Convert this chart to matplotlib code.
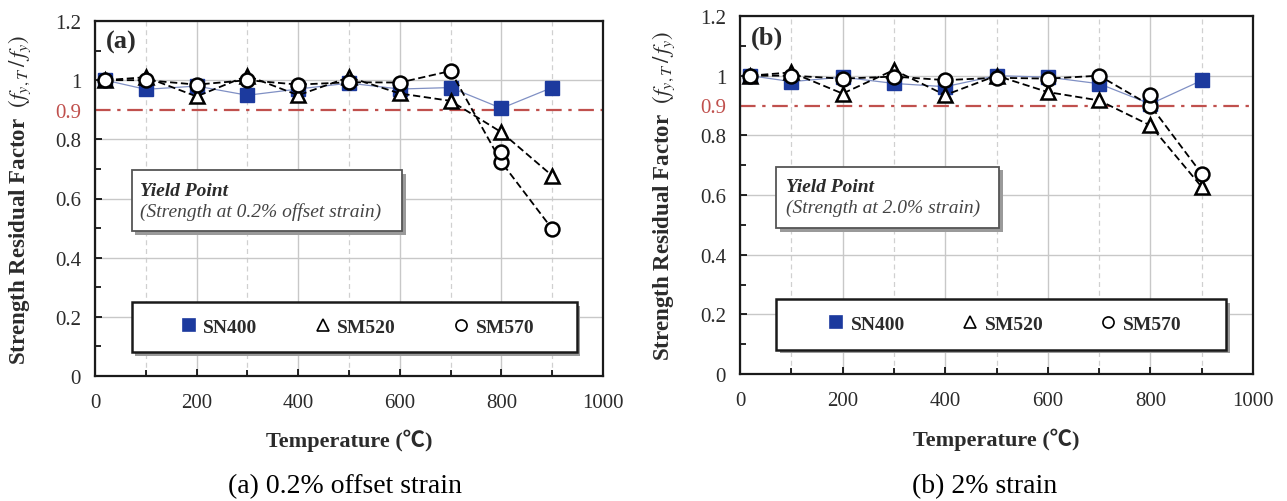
import matplotlib
matplotlib.use("Agg")
import matplotlib.pyplot as plt
import matplotlib.transforms as mtransforms
from matplotlib.patches import Rectangle

plt.rcParams['font.family'] = ['Liberation Serif', 'Noto Sans CJK JP', 'DejaVu Serif']
plt.rcParams['mathtext.fontset'] = 'stix'

# temperatures (deg C)
temps = [20, 100, 200, 300, 400, 500, 600, 700, 800, 900]

# (a) 0.2% offset strain
a_sn400 = [1.00, 0.969, 0.98, 0.949, 0.97, 0.99, 0.97, 0.975, 0.905, 0.975]
a_sm520 = [1.00, 1.01, 0.945, 1.015, 0.949, 1.01, 0.955, 0.93, 0.824, 0.677]
a_sm570 = [1.00, 1.00, 0.985, 1.00, 0.985, 0.993, 0.992, 1.031, 0.723, 0.497]
a_extra_t = [800]
a_extra_sm570 = [0.757]

# (b) 2% strain
b_sn400 = [1.00, 0.98, 0.995, 0.974, 0.963, 1.00, 0.995, 0.973, 0.905, 0.984]
b_sm520 = [1.00, 1.011, 0.94, 1.019, 0.935, 1.00, 0.945, 0.917, 0.833, 0.627]
b_sm570 = [1.00, 1.00, 0.99, 0.997, 0.985, 0.993, 0.99, 1.00, 0.90, 0.671]
b_extra_t = [800]
b_extra_sm570 = [0.934]

series_names = ['SN400', 'SM520', 'SM570']
ytick_vals = [0, 0.2, 0.4, 0.6, 0.8, 1.0, 1.2]
ytick_text = ['0', '0.2', '0.4', '0.6', '0.8', '1', '1.2']

BLUE = '#1c3a9e'
RED = '#c0504d'
TXT = '#2b2b2b'


def boxed(ax, x0, y0, x1, y1, ec, lw):
    # frame with a small drop shadow
    shadow_tr = ax.transData + mtransforms.ScaledTranslation(2.5 / 72, -2.5 / 72, ax.figure.dpi_scale_trans)
    ax.add_patch(Rectangle((x0, y0), x1 - x0, y1 - y0, transform=shadow_tr,
                           facecolor='#9a9a9a', edgecolor='none', zorder=6))
    ax.add_patch(Rectangle((x0, y0), x1 - x0, y1 - y0, facecolor='white',
                           edgecolor=ec, lw=lw, zorder=7))


def draw_panel(ax, sn, s520, s570, ex_t, ex_570, tag, note, notebox, legbox):
    ax.set_xlim(0, 1000)
    ax.set_ylim(0, 1.2)

    ax.set_xticks(range(0, 1001, 200))
    ax.set_xticks(range(100, 1000, 200), minor=True)
    ax.set_yticks(ytick_vals)
    ax.set_yticklabels(ytick_text)
    ax.set_yticks([0.1, 0.3, 0.5, 0.7, 0.9, 1.1], minor=True)
    ax.set_yticklabels(['', '', '', '', '0.9', ''], minor=True)

    ax.tick_params(which='both', direction='in', top=False, right=False,
                   labelsize=15, labelcolor=TXT, pad=10, width=1.2)
    ax.tick_params(axis='x', which='both', pad=12)
    ax.tick_params(which='major', length=5)
    ax.tick_params(which='minor', length=4)
    ax.tick_params(axis='y', which='minor', labelcolor=RED)

    ax.grid(True, which='major', color='#c8c8c8', lw=1.0)
    ax.grid(True, which='minor', axis='x', color='#d0d0d0', lw=0.9, ls=(0, (4, 3)))
    ax.set_axisbelow(True)
    for sp in ax.spines.values():
        sp.set_linewidth(1.6)
        sp.set_color('#1a1a1a')

    ax.axhline(0.9, color=RED, lw=1.6, ls=(0, (7, 3, 1.5, 3)), zorder=2)

    ax.plot(temps, sn, color='#8090c4', lw=0.9, marker='s', ms=10,
            mfc=BLUE, mec=BLUE, label=series_names[0], zorder=3)
    ax.plot(temps, s520, color='black', lw=1.3, ls=(0, (4, 2)), marker='^', ms=10,
            mfc='white', mec='black', mew=1.8, label=series_names[1], zorder=4)
    ax.plot(temps, s570, color='black', lw=1.3, ls=(0, (4, 2)), marker='o', ms=10,
            mfc='white', mec='black', mew=1.8, label=series_names[2], zorder=5)
    ax.plot(ex_t, ex_570, ls='none', marker='o', ms=10, mfc='white', mec='black',
            mew=1.8, zorder=5)

    ax.text(22, 1.13, tag, fontsize=19, fontweight='bold', color=TXT,
            va='center', ha='left', zorder=8)

    # note box
    boxed(ax, *notebox, '#555555', 1.3)
    ax.text(89, 0.627, 'Yield Point', fontsize=14, fontweight='bold', style='italic',
            color=TXT, va='center', zorder=8)
    ax.text(89, 0.557, note, fontsize=14, style='italic', color='#444444',
            va='center', zorder=8)

    # legend box
    x0, y0, x1, y1 = legbox
    boxed(ax, x0, y0, x1, y1, '#1a1a1a', 1.8)
    handles, labels = ax.get_legend_handles_labels()
    handles = [plt.Line2D([], [], ls='none', marker=h.get_marker(), ms=8,
                          mfc=h.get_markerfacecolor(), mec=h.get_markeredgecolor(),
                          mew=1.2) for h in handles]
    leg = ax.legend(handles, labels, loc='center',
                    bbox_to_anchor=((x0 + x1) / 2 + 8, (y0 + y1) / 2),
                    bbox_transform=ax.transData, ncol=3, frameon=False,
                    handlelength=0.7, handletextpad=0.4, columnspacing=3.0,
                    prop={'size': 14, 'weight': 'bold'})
    leg.set_zorder(9)
    for t in leg.get_texts():
        t.set_color(TXT)

    ax.set_xlabel('Temperature (\u2103)', fontsize=16, fontweight='bold', color=TXT)
    ax.xaxis.set_label_coords(0.5, -0.18)
    ax.xaxis.label.set_va('center')
    ax.set_ylabel('Strength Residual Factor  ' + r'$(f_{y,T}\,/\,f_y)$',
                  fontsize=16.5, fontweight='bold', color=TXT)
    ax.yaxis.set_label_coords(-0.148, 0.5)
    ax.yaxis.label.set_va('center')


fig = plt.figure(figsize=(12.87, 5.02), dpi=100)
ax_a = fig.add_axes([95 / 1287, 125 / 502, 508 / 1287, 355 / 502])
ax_b = fig.add_axes([740 / 1287, 127 / 502, 513 / 1287, 358 / 502])

draw_panel(ax_a, a_sn400, a_sm520, a_sm570, a_extra_t, a_extra_sm570, '(a)',
           '(Strength at 0.2% offset strain)', (72, 0.49, 605, 0.695),
           (72, 0.08, 948, 0.25))
draw_panel(ax_b, b_sn400, b_sm520, b_sm570, b_extra_t, b_extra_sm570, '(b)',
           '(Strength at 2.0% strain)', (71, 0.488, 505, 0.695),
           (71, 0.082, 948, 0.25))

fig.text(345 / 1287, 1 - 487 / 502, '(a) 0.2% offset strain', fontsize=20,
         ha='center', va='center', color='black')
fig.text(985 / 1287, 1 - 487 / 502, '(b) 2% strain', fontsize=20,
         ha='center', va='center', color='black')

fig.savefig('out.png', dpi=100, facecolor='white')
plt.close(fig)
